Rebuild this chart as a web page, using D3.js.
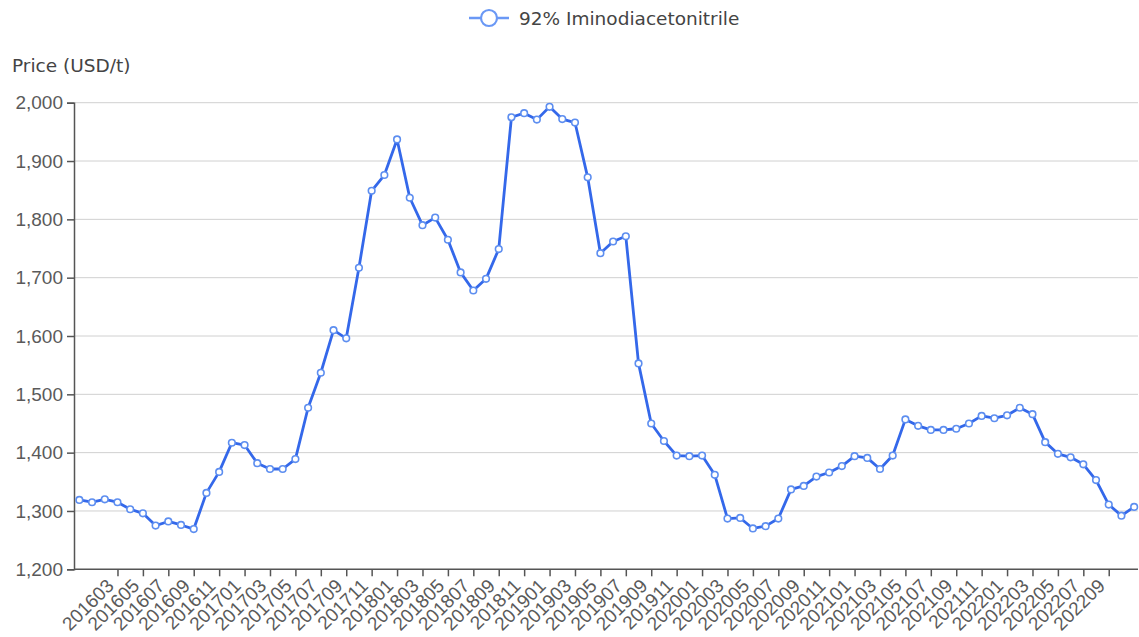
<!DOCTYPE html>
<html><head><meta charset="utf-8">
<script src="https://cdn.jsdelivr.net/npm/d3@7"></script>
<style>
html,body{margin:0;padding:0;background:#fff;}
svg{display:block;font-family:"DejaVu Sans","Noto Sans",sans-serif;}
</style></head>
<body>
<svg id="chart" width="1139" height="637"></svg>
<script>
// ---- data ----
const seriesName = "92% Iminodiacetonitrile";
const yAxisTitle = "Price (USD/t)";
const months = [];
for (let yr = 2016; yr <= 2022; yr++) for (let m = 1; m <= 12; m++) months.push(String(yr) + String(m).padStart(2, "0"));
const prices = [
 1319,1315,1320,1315,1303,1296,1275,1282,1276,1269,1331,1367,
 1417,1413,1382,1372,1372,1389,1477,1537,1610,1596,1717,1849,
 1876,1937,1837,1790,1803,1765,1709,1678,1698,1749,1975,1982,
 1971,1993,1972,1966,1872,1742,1762,1771,1553,1450,1420,1395,
 1394,1395,1362,1287,1288,1270,1274,1287,1337,1343,1359,1366,
 1377,1394,1391,1372,1395,1457,1446,1439,1439,1441,1450,1463,
 1459,1464,1477,1466,1418,1398,1392,1380,1353,1311,1292,1307
];
const yTicks = [1200,1300,1400,1500,1600,1700,1800,1900,2000];
const xLabelMonths = months.filter((d, i) => i >= 2 && i <= 80 && i % 2 === 0);
const xTickMonths = months.filter((d, i) => i >= 3 && i <= 81 && i % 2 === 1);

(function () {
// ---- layout ----
const svg = d3.select("#chart");
const pLeft = 74, pRight = 1138, pTop = 102.7, pBottom = 569.3;
const x = d3.scalePoint().domain(months).range([73, 1140.5]).padding(0.5);
const y = d3.scaleLinear().domain([1200, 2000]).range([pBottom, pTop]);
const lineColor = "#3468ea";

// gridlines
svg.append("g").selectAll("line").data(yTicks.filter(d => d > 1200)).join("line")
  .attr("x1", pLeft).attr("x2", pRight)
  .attr("y1", d => y(d)).attr("y2", d => y(d))
  .attr("stroke", "#d0d0d0").attr("stroke-width", 1);

// y axis
const yAxis = svg.append("g").attr("transform", `translate(${pLeft},0)`)
  .call(d3.axisLeft(y).tickValues(yTicks).tickFormat(d3.format(",")).tickSize(7).tickPadding(4));
yAxis.select(".domain").attr("stroke", "#555").attr("stroke-width", 1.5);
yAxis.selectAll(".tick line").attr("stroke", "#555").attr("stroke-width", 1.5);
yAxis.selectAll("text").attr("fill", "#5a5a5a").style("font-size", "19px");

// x axis ticks
const xAxisTicks = svg.append("g").attr("transform", `translate(0,${pBottom})`)
  .call(d3.axisBottom(x).tickValues(xTickMonths).tickSize(7).tickFormat(""));
xAxisTicks.select(".domain").attr("d", `M${pLeft},0H${pRight}`).attr("stroke", "#555").attr("stroke-width", 1.5);
xAxisTicks.selectAll(".tick line").attr("stroke", "#555").attr("stroke-width", 1.5);

// x axis labels
const xAxisLabels = svg.append("g").attr("transform", `translate(0,${pBottom + 8})`)
  .call(d3.axisBottom(x).tickValues(xLabelMonths).tickSize(0).tickPadding(0));
xAxisLabels.select(".domain").remove();
xAxisLabels.selectAll("text")
  .attr("fill", "#5a5a5a").style("font-size", "19px")
  .attr("text-anchor", "end").attr("y", 0).attr("dy", "0.72em")
  .attr("transform", "rotate(-45)");

// y title
svg.append("text").attr("x", 12).attr("y", 72).attr("fill", "#444")
  .style("font-size", "18.5px").text(yAxisTitle);

// line
const line = d3.line().x((d, i) => x(months[i])).y(d => y(d));
svg.append("path").datum(prices).attr("d", line)
  .attr("fill", "none").attr("stroke", lineColor).attr("stroke-width", 2.8)
  .attr("stroke-linejoin", "round");
svg.append("g").selectAll("circle").data(prices).join("circle")
  .attr("cx", (d, i) => x(months[i])).attr("cy", d => y(d)).attr("r", 3.3)
  .attr("fill", "#fff").attr("stroke", "#5d8ef0").attr("stroke-width", 1.6);

// legend
const lg = svg.append("g").attr("transform", "translate(489,18)");
lg.append("line").attr("x1", -20).attr("x2", 20).attr("stroke", "#6a98f5").attr("stroke-width", 2.5);
lg.append("circle").attr("r", 8).attr("fill", "#fff").attr("stroke", "#6a98f5").attr("stroke-width", 2.2);
lg.append("text").attr("x", 30).attr("y", 6.5).attr("fill", "#444")
  .style("font-size", "18.5px").text(seriesName);
})();
</script>
</body></html>
